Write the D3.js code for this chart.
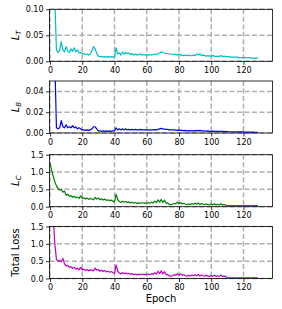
<!DOCTYPE html>
<html>
<head>
<meta charset="utf-8">
<script src="https://cdn.jsdelivr.net/npm/d3@7"></script>
<style>
  body { margin: 0; background: #fff; }
  svg { display: block; font-family: "DejaVu Sans", sans-serif; }
</style>
</head>
<body>
<div id="chart"></div>
<script>
// per-epoch losses
const epochs = d3.range(0, 130);

const lossT = [
  0.35, 0.25, 0.18, 0.12, 0.022, 0.017, 0.021, 0.038, 0.022, 0.018,
  0.028, 0.02, 0.017, 0.024, 0.019, 0.026, 0.018, 0.022, 0.016, 0.017,
  0.014, 0.015, 0.013, 0.014, 0.012, 0.014, 0.02, 0.028, 0.024, 0.015,
  0.01, 0.009, 0.009, 0.008, 0.009, 0.008, 0.009, 0.008, 0.009, 0.008,
  0.009, 0.026, 0.014, 0.016, 0.012, 0.018, 0.014, 0.017, 0.015, 0.016,
  0.013, 0.015, 0.012, 0.014, 0.012, 0.013, 0.014, 0.012, 0.013, 0.012,
  0.013, 0.012, 0.013, 0.012, 0.013, 0.014, 0.013, 0.015, 0.016, 0.018,
  0.017, 0.016, 0.015, 0.015, 0.014, 0.014, 0.013, 0.014, 0.013, 0.012,
  0.014, 0.012, 0.012, 0.011, 0.012, 0.011, 0.012, 0.011, 0.011, 0.012,
  0.011, 0.014, 0.012, 0.014, 0.011, 0.012, 0.011, 0.010, 0.011, 0.010,
  0.010, 0.011, 0.010, 0.009, 0.010, 0.009, 0.011, 0.009, 0.010, 0.009,
  0.009, 0.009, 0.008, 0.008, 0.008, 0.008, 0.008, 0.007, 0.007, 0.007,
  0.007, 0.007, 0.007, 0.007, 0.007, 0.006, 0.006, 0.006, 0.006, 0.006
];

const lossB = [
  0.2, 0.14, 0.1, 0.07, 0.005, 0.004, 0.005, 0.012, 0.006, 0.005,
  0.008, 0.005, 0.006, 0.005, 0.007, 0.005, 0.006, 0.004, 0.005, 0.004,
  0.003, 0.003, 0.0025, 0.003, 0.0025, 0.003, 0.004, 0.006, 0.006, 0.004,
  0.002, 0.002, 0.0015, 0.002, 0.0015, 0.002, 0.0015, 0.002, 0.0015, 0.002,
  0.002, 0.005, 0.003, 0.004, 0.003, 0.004, 0.003, 0.004, 0.003, 0.0035,
  0.003, 0.0035, 0.003, 0.0035, 0.003, 0.003, 0.0035, 0.003, 0.003, 0.003,
  0.003, 0.003, 0.0028, 0.003, 0.003, 0.0032, 0.003, 0.0035, 0.004, 0.0045,
  0.004, 0.0038, 0.0035, 0.0035, 0.003, 0.003, 0.003, 0.003, 0.0028, 0.0025,
  0.003, 0.0025, 0.0025, 0.002, 0.0025, 0.002, 0.0022, 0.002, 0.002, 0.0022,
  0.002, 0.0025, 0.002, 0.0025, 0.002, 0.002, 0.0018, 0.0018, 0.002, 0.0016,
  0.0016, 0.0018, 0.0016, 0.0015, 0.0016, 0.0015, 0.0017, 0.0014, 0.0015, 0.0013,
  0.0013, 0.0012, 0.0012, 0.0012, 0.0011, 0.0011, 0.001, 0.001, 0.001, 0.001,
  0.001, 0.0009, 0.0009, 0.0009, 0.0008, 0.0008, 0.0008, 0.0007, 0.0007, 0.0007
];

const lossC = [
  1.27, 1.05, 0.88, 0.72, 0.6, 0.52, 0.48, 0.5, 0.42, 0.45,
  0.33, 0.36, 0.3, 0.32, 0.27, 0.3, 0.26, 0.28, 0.24, 0.31,
  0.24, 0.26, 0.22, 0.25, 0.21, 0.24, 0.22, 0.2, 0.27, 0.22,
  0.25, 0.2, 0.23, 0.19, 0.22, 0.18, 0.2, 0.17, 0.19, 0.16,
  0.14, 0.36, 0.2, 0.15, 0.12, 0.16, 0.13, 0.15, 0.12, 0.14,
  0.11, 0.13, 0.1, 0.12, 0.09, 0.11, 0.1, 0.12, 0.1, 0.11,
  0.1, 0.12, 0.1, 0.13, 0.11, 0.16, 0.12, 0.2, 0.13, 0.21,
  0.12, 0.19, 0.1, 0.11, 0.06, 0.06, 0.07, 0.1, 0.08, 0.13,
  0.09, 0.12, 0.08, 0.1, 0.07, 0.06, 0.08, 0.06, 0.09, 0.07,
  0.1, 0.07, 0.11, 0.06, 0.09, 0.07, 0.06, 0.08, 0.06, 0.05,
  0.08, 0.05, 0.09, 0.05, 0.07, 0.05, 0.09, 0.05, 0.06, 0.05,
  0.03, 0.03, 0.03, 0.03, 0.03, 0.03, 0.03, 0.03, 0.03, 0.03,
  0.03, 0.03, 0.03, 0.03, 0.03, 0.03, 0.03, 0.03, 0.03, 0.03
];

const lossTotal = [
  4.0, 2.8, 1.8, 1.0, 0.55, 0.5, 0.52, 0.48, 0.58, 0.42,
  0.36, 0.38, 0.32, 0.34, 0.29, 0.32, 0.27, 0.3, 0.25, 0.32,
  0.25, 0.27, 0.23, 0.26, 0.22, 0.25, 0.24, 0.22, 0.3, 0.24,
  0.26, 0.21, 0.24, 0.2, 0.23, 0.19, 0.21, 0.18, 0.2, 0.17,
  0.15, 0.39, 0.21, 0.16, 0.13, 0.17, 0.14, 0.16, 0.13, 0.15,
  0.12, 0.14, 0.11, 0.13, 0.1, 0.12, 0.11, 0.13, 0.11, 0.12,
  0.11, 0.13, 0.11, 0.14, 0.12, 0.17, 0.13, 0.21, 0.14, 0.22,
  0.13, 0.2, 0.11, 0.12, 0.07, 0.07, 0.08, 0.11, 0.09, 0.14,
  0.1, 0.13, 0.09, 0.11, 0.08, 0.07, 0.09, 0.07, 0.1, 0.08,
  0.11, 0.08, 0.12, 0.07, 0.1, 0.08, 0.07, 0.09, 0.07, 0.06,
  0.09, 0.06, 0.1, 0.06, 0.08, 0.06, 0.1, 0.06, 0.07, 0.06,
  0.02, 0.02, 0.02, 0.02, 0.02, 0.02, 0.02, 0.02, 0.02, 0.02,
  0.02, 0.02, 0.02, 0.02, 0.02, 0.02, 0.02, 0.02, 0.02, 0.02
];

const xTicks = [0, 20, 40, 60, 80, 100, 120];
const ticksT = [0, 0.05, 0.10];
const ticksB = [0, 0.02, 0.04];
const ticksC = [0, 0.5, 1.0, 1.5];
const ticksTotal = [0, 0.5, 1.0, 1.5];

const panels = [
  {values: lossT, color: '#00bfbf', ymax: 0.10, ticks: ticksT, fmt: '.2f', label: 'L', sub: 'T'},
  {values: lossB, color: '#0000ff', ymax: 0.05, ticks: ticksB, fmt: '.2f', label: 'L', sub: 'B'},
  {values: lossC, color: '#008000', ymax: 1.5, ticks: ticksC, fmt: '.1f', label: 'L', sub: 'C'},
  {values: lossTotal, color: '#bf00bf', ymax: 1.5, ticks: ticksTotal, fmt: '.1f', label: 'Total Loss'}
];

const width = 282, height = 309;
const left = 49.5, right = 272.5;
const tops = [9.3, 81, 154.7, 226.5];
const panelH = 52;

const svg = d3.select('#chart').append('svg')
  .attr('width', width)
  .attr('height', height);

const x = d3.scaleLinear().domain([-0.3, 138]).range([left, right]);

panels.forEach((p, i) => {
  const top = tops[i], bottom = top + panelH;
  const y = d3.scaleLinear().domain([0, p.ymax]).range([bottom, top]);
  const g = svg.append('g');

  const clipId = 'clip' + i;
  svg.append('clipPath').attr('id', clipId)
    .append('rect')
    .attr('x', left).attr('y', top)
    .attr('width', right - left).attr('height', panelH);

  // dashed grid
  g.append('g').selectAll('line')
    .data(xTicks)
    .join('line')
    .attr('x1', d => x(d)).attr('x2', d => x(d))
    .attr('y1', top).attr('y2', bottom)
    .attr('stroke', '#b0b0b0').attr('stroke-width', 1.5)
    .attr('stroke-dasharray', '5,2.5');
  g.append('g').selectAll('line')
    .data(p.ticks)
    .join('line')
    .attr('x1', left).attr('x2', right)
    .attr('y1', d => y(d)).attr('y2', d => y(d))
    .attr('stroke', '#b0b0b0').attr('stroke-width', 1.5)
    .attr('stroke-dasharray', '5,2.5');

  const line = d3.line()
    .x((d, j) => x(epochs[j]))
    .y(d => y(d));

  g.append('path')
    .datum(p.values)
    .attr('clip-path', 'url(#' + clipId + ')')
    .attr('fill', 'none')
    .attr('stroke', p.color)
    .attr('stroke-width', 1.2)
    .attr('stroke-linejoin', 'round')
    .attr('d', line);

  // axes
  const xAxis = g.append('g')
    .attr('transform', 'translate(0,' + bottom + ')')
    .call(d3.axisBottom(x).tickValues(xTicks).tickSize(3.5).tickPadding(2.5));
  const yAxis = g.append('g')
    .attr('transform', 'translate(' + left + ',0)')
    .call(d3.axisLeft(y).tickValues(p.ticks).tickFormat(d3.format(p.fmt)).tickSize(3.5).tickPadding(2.5));
  [xAxis, yAxis].forEach(a => {
    a.select('.domain').remove();
    a.selectAll('line').attr('stroke', '#000').attr('stroke-width', 0.8);
    a.selectAll('text').attr('font-size', 8).attr('fill', '#000')
      .attr('font-family', '"DejaVu Sans", sans-serif');
  });

  g.append('rect')
    .attr('x', left).attr('y', top)
    .attr('width', right - left).attr('height', panelH)
    .attr('fill', 'none')
    .attr('stroke', '#000')
    .attr('stroke-width', 0.8);

  // y label
  const lab = svg.append('text')
    .attr('transform', 'translate(18.5,' + (top + panelH / 2) + ') rotate(-90)')
    .attr('text-anchor', 'middle')
    .attr('font-size', 10)
    .attr('fill', '#000');
  if (p.sub) {
    lab.append('tspan').attr('font-style', 'italic').text(p.label);
    lab.append('tspan').attr('font-style', 'italic').attr('font-size', 7)
      .attr('dy', 2).text(p.sub);
  } else {
    lab.text(p.label);
  }
});

svg.append('text')
  .attr('x', (left + right) / 2)
  .attr('y', 302)
  .attr('text-anchor', 'middle')
  .attr('font-size', 10)
  .attr('fill', '#000')
  .text('Epoch');
</script>
</body>
</html>
